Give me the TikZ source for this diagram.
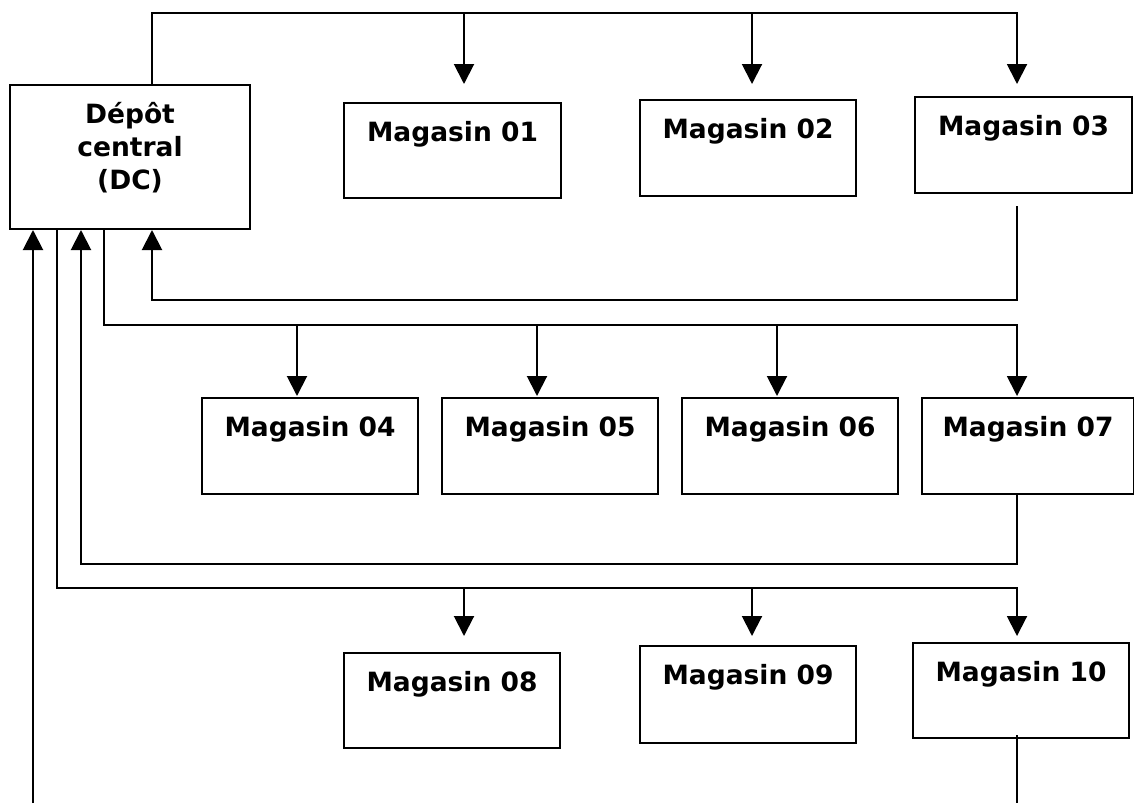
\documentclass[tikz,border=0pt]{standalone}
\usepackage{fontspec}
\setmainfont{DejaVu Sans}
\usepackage{tikz}
\usetikzlibrary{shapes,arrows.meta,positioning}

\begin{document}
\begin{tikzpicture}[  x=1pt, y=-1pt,  line width=2pt,  >={Triangle[length=20pt,width=20pt]},  font=\fontsize{26.5}{33}\selectfont\bfseries,  box/.style={draw, rectangle, anchor=north west, inner sep=0pt, minimum width=216pt, minimum height=96pt},  boxtext/.style={anchor=north, inner sep=0pt, yshift=-18pt, align=center},  ]

  \useasboundingbox (0,0) rectangle (1134,803);

  \node[box, minimum width=240pt, minimum height=144pt,
    label={[boxtext, yshift=1pt]north:Dépôt\\central\\(DC)}] (dc) at (9,84) {};

  \node[box, minimum width=217pt, minimum height=95pt, label={[boxtext]north:Magasin 01}] (m1) at (343,102) {};
  \node[box, label={[boxtext]north:Magasin 02}] (m2) at (639,99) {};
  \node[box, minimum width=217pt, label={[boxtext]north:Magasin 03}] (m3) at (914,96) {};

  \node[box, label={[boxtext]north:Magasin 04}] (m4) at (201,397) {};
  \node[box, label={[boxtext]north:Magasin 05}] (m5) at (441,397) {};
  \node[box, label={[boxtext]north:Magasin 06}] (m6) at (681,397) {};
  \node[box, minimum width=212pt, label={[boxtext]north:Magasin 07}] (m7) at (921,397) {};

  \node[box, minimum height=95pt, label={[boxtext]north:Magasin 08}] (m8) at (343,652) {};
  \node[box, minimum height=97pt, label={[boxtext]north:Magasin 09}] (m9) at (639,645) {};
  \node[box, minimum height=95pt, label={[boxtext]north:Magasin 10}] (m10) at (912,642) {};

  \coordinate (bus1) at (152,13);
  \coordinate (bus2) at (104,325);
  \coordinate (bus3) at (57,588);
  \coordinate (ret1) at (152,300);
  \coordinate (ret2) at (81,564);
  \coordinate (ret3) at (33,803);
  \coordinate (a1) at (464,84);
  \coordinate (a2) at (752,84);
  \coordinate (a3) at (1017,84);
  \coordinate (b1) at (297,396);
  \coordinate (b2) at (537,396);
  \coordinate (b3) at (777,396);
  \coordinate (b4) at (1017,396);
  \coordinate (c1) at (464,636);
  \coordinate (c2) at (752,636);
  \coordinate (c3) at (1017,636);

  \draw[->] (dc.north -| bus1) -- (bus1) -| (a3);
  \foreach \t in {a1,a2}
    \draw[->] (bus1 -| \t) -- (\t);
  \draw[->] ([yshift=-12pt]m3.south -| a3) -- (ret1 -| a3) -- (ret1) -- (dc.south -| ret1);

  \draw[->] (dc.south -| bus2) -- (bus2) -| (b4);
  \foreach \t in {b1,b2,b3}
    \draw[->] (bus2 -| \t) -- (\t);
  \draw[->] (m7.south -| b4) -- (ret2 -| b4) -- (ret2) -- (dc.south -| ret2);

  \draw[->] (dc.south -| bus3) -- (bus3) -| (c3);
  \foreach \t in {c1,c2}
    \draw[->] (bus3 -| \t) -- (\t);
  \draw ([yshift=4pt]m10.south -| c3) -- (ret3 -| c3);
  \draw[->] (ret3) -- (dc.south -| ret3);
\end{tikzpicture}
\end{document}
